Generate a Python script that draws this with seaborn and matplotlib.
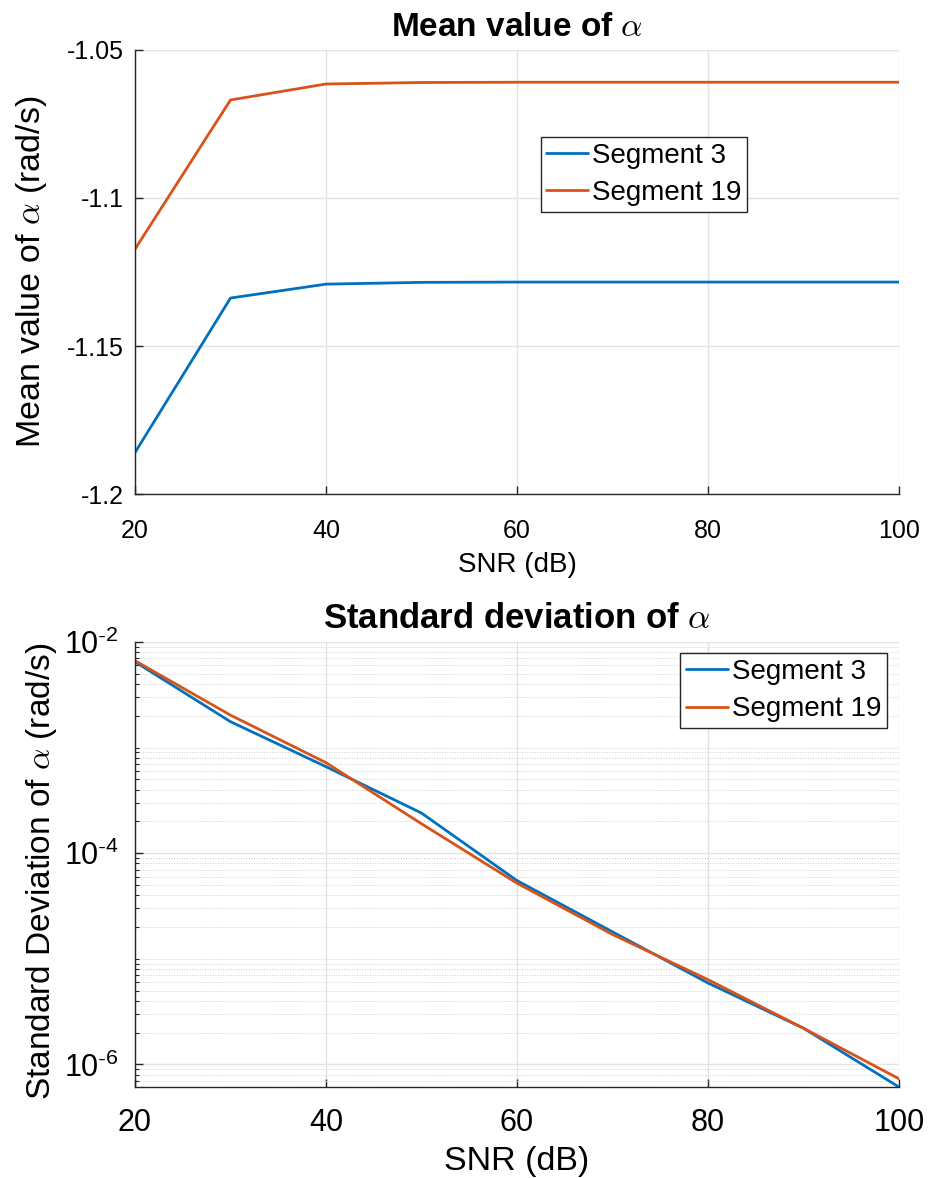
import numpy as np
import pandas as pd
import seaborn as sns
import matplotlib
matplotlib.use("Agg")
import matplotlib.pyplot as plt
from matplotlib.ticker import FixedLocator, LogLocator, NullFormatter, FuncFormatter

snr = [20, 30, 40, 50, 60, 70, 80, 90, 100]
segments = ["Segment 3", "Segment 19"]
mean_seg3 = [-1.1860, -1.1338, -1.1291, -1.1285, -1.1284, -1.1284, -1.1284, -1.1284, -1.1284]
mean_seg19 = [-1.1173, -1.0669, -1.0615, -1.0610, -1.0609, -1.0609, -1.0609, -1.0609, -1.0609]
std_seg3 = [6.5e-3, 1.76e-3, 6.6e-4, 2.4e-4, 5.5e-5, 1.8e-5, 5.9e-6, 2.2e-6, 6.1e-7]
std_seg19 = [6.65e-3, 2.03e-3, 7.2e-4, 1.9e-4, 5.2e-5, 1.7e-5, 6.35e-6, 2.2e-6, 7.3e-7]

colors = ["#0072BD", "#D95319"]

sns.set_theme(style="whitegrid")
plt.rcParams['font.family'] = ['Liberation Sans', 'DejaVu Sans']
plt.rcParams['mathtext.fontset'] = 'cm'
plt.rcParams['axes.unicode_minus'] = False
plt.rcParams['text.color'] = 'black'
plt.rcParams['axes.labelcolor'] = 'black'

df_mean = pd.DataFrame({
    "snr": snr * 2,
    "value": mean_seg3 + mean_seg19,
    "segment": [segments[0]] * len(snr) + [segments[1]] * len(snr),
})
df_std = pd.DataFrame({
    "snr": snr * 2,
    "value": std_seg3 + std_seg19,
    "segment": [segments[0]] * len(snr) + [segments[1]] * len(snr),
})

fig = plt.figure(figsize=(9.36, 11.78), dpi=100)
ax1 = fig.add_axes([0.1442, 0.5806, 0.8163, 0.3770])
ax2 = fig.add_axes([0.1442, 0.0772, 0.8163, 0.3778])

grid_major = "#e3e3e3"
grid_minor = "#d0d0d0"
spine_col = "#262626"


def style_axes(ax, tick_size):
    for side in ["top", "right"]:
        ax.spines[side].set_visible(False)
    for side in ["left", "bottom"]:
        ax.spines[side].set_color(spine_col)
        ax.spines[side].set_linewidth(1.0)
    ax.tick_params(axis="both", which="major", direction="in", length=5.5, width=1.0,
                   color=spine_col, labelsize=tick_size, labelcolor="black")
    ax.tick_params(axis="both", which="minor", direction="in", length=3, width=0.8,
                   color=spine_col)
    ax.tick_params(left=True, bottom=True, which="both")
    ax.set_axisbelow(True)


def style_legend(ax, loc, anchor):
    leg = ax.legend(loc=loc, bbox_to_anchor=anchor, fontsize=20, frameon=True,
                    fancybox=False, edgecolor=spine_col, framealpha=1, borderpad=0.2,
                    handlelength=1.5, handletextpad=0.15, labelspacing=0.42,
                    borderaxespad=0)
    leg.get_frame().set_linewidth(1.0)
    for line in leg.get_lines():
        line.set_linewidth(2.0)


# top panel: mean value
sns.lineplot(data=df_mean, x="snr", y="value", hue="segment", palette=colors,
             linewidth=2.0, ax=ax1)
style_axes(ax1, 18)
ax1.set_xlim(20, 100)
ax1.set_ylim(-1.2, -1.05)
ax1.xaxis.set_major_locator(FixedLocator([20, 40, 60, 80, 100]))
ax1.yaxis.set_major_locator(FixedLocator([-1.2, -1.15, -1.1, -1.05]))
ax1.yaxis.set_major_formatter(FuncFormatter(lambda v, p: "%g" % v))
ax1.grid(True, which="major", color=grid_major, linewidth=1.0)
ax1.tick_params(axis="y", pad=8)
ax1.tick_params(axis="x", pad=18)
ax1.set_title(r"Mean value of $\alpha$", fontsize=24, fontweight="bold", pad=10)
ax1.set_xlabel("SNR (dB)", fontsize=20)
ax1.set_ylabel(r"Mean value of $\alpha$ (rad/s)", fontsize=24.5)
ax1.xaxis.set_label_coords(0.5, -0.13)
ax1.yaxis.set_label_coords(-0.112, 0.5)
style_legend(ax1, "upper left", (0.531, 0.804))

# bottom panel: standard deviation
sns.lineplot(data=df_std, x="snr", y="value", hue="segment", palette=colors,
             linewidth=2.0, ax=ax2)
ax2.set_yscale("log")
style_axes(ax2, 22)
ax2.set_xlim(20, 100)
ax2.set_ylim(min(min(std_seg3), min(std_seg19)), 1e-2)
ax2.xaxis.set_major_locator(FixedLocator([20, 40, 60, 80, 100]))
ax2.yaxis.set_major_locator(FixedLocator([1e-6, 1e-4, 1e-2]))
ax2.yaxis.set_minor_locator(LogLocator(base=10, subs=np.arange(1, 10), numticks=20))
ax2.yaxis.set_minor_formatter(NullFormatter())
ax2.yaxis.set_major_formatter(FuncFormatter(
    lambda v, p: r"$\mathregular{10^{\text{-}%d}}$" % abs(int(round(np.log10(v))))))
ax2.grid(True, which="major", color=grid_major, linewidth=1.0)
ax2.grid(True, which="minor", axis="y", color=grid_minor, linewidth=0.7, linestyle=":")
ax2.tick_params(axis="y", pad=12)
ax2.tick_params(axis="x", pad=15)
ax2.set_title(r"Standard deviation of $\alpha$", fontsize=25, fontweight="bold", pad=10)
ax2.set_xlabel("SNR (dB)", fontsize=24.5)
ax2.set_ylabel(r"Standard Deviation of $\alpha$ (rad/s)", fontsize=24)
ax2.xaxis.set_label_coords(0.5, -0.132)
ax2.yaxis.set_label_coords(-0.1, 0.485)
style_legend(ax2, "upper right", (0.984, 0.975))

fig.savefig("out.png", dpi=100)
